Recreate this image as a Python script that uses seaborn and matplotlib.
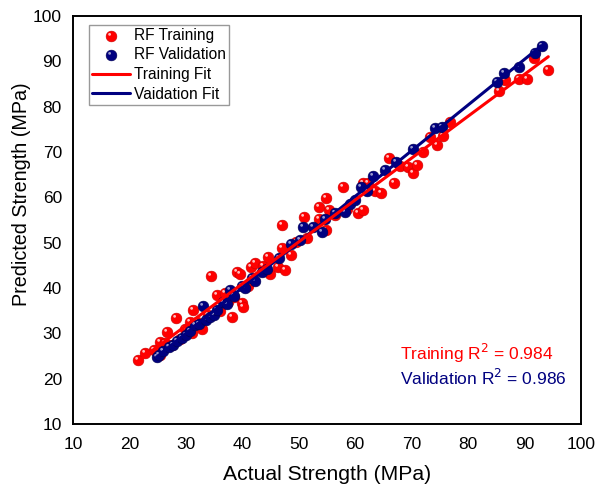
import numpy as np
import pandas as pd
import matplotlib
matplotlib.use("Agg")
import matplotlib.pyplot as plt
from matplotlib.path import Path
from matplotlib.legend_handler import HandlerTuple
import seaborn as sns

# data
train_actual = [21.6, 22.8, 24.4, 25.4, 25.5, 26.6, 26.3, 27.5, 28.2, 29.0,
                29.8, 30.7, 31.3, 31.0, 32.0, 32.8, 34.4, 34.0, 35.5, 36.0,
                36.9, 37.5, 38.1, 38.5, 39.0, 39.6, 39.9, 40.2, 41.5, 41.0,
                42.2, 43.7, 44.9, 44.6, 46.4, 47.6, 47.0, 48.7, 47.1, 49.5,
                50.9, 51.4, 53.6, 54.9, 53.5, 54.8, 55.4, 56.5, 57.9, 58.5,
                60.5, 61.4, 61.4, 62.3, 63.5, 64.5, 66.0, 66.8, 68.0, 69.4,
                70.3, 70.9, 72.0, 73.3, 74.4, 75.5, 76.8, 85.4, 86.5, 89.0,
                90.5, 91.7, 94.2]
train_pred = [24.1, 25.6, 26.3, 28.2, 25.3, 30.4, 27.8, 27.5, 33.3, 28.8,
              31.0, 32.6, 35.1, 30.0, 32.5, 30.9, 42.6, 34.0, 38.5, 35.0,
              38.8, 37.0, 33.5, 38.0, 43.6, 43.1, 36.6, 35.9, 44.7, 40.5,
              45.5, 44.9, 43.1, 46.8, 44.7, 44.0, 48.8, 47.3, 53.9, 50.2,
              55.7, 51.0, 55.2, 52.8, 57.8, 59.8, 57.2, 56.0, 62.2, 57.5,
              56.5, 57.3, 63.1, 63.1, 61.5, 61.0, 68.6, 63.1, 67.0, 66.6,
              65.3, 67.1, 70.0, 73.4, 71.5, 73.5, 76.7, 83.5, 85.8, 86.1,
              86.1, 90.7, 88.2]

val_actual = [24.8, 25.3, 26.0, 27.0, 27.8, 28.5, 29.3, 30.1, 30.8, 31.6,
              32.3, 33.1, 33.5, 34.2, 34.9, 35.5, 36.6, 37.2, 37.8, 38.5,
              39.9, 40.5, 41.7, 42.3, 43.5, 44.3, 46.5, 48.7, 50.2, 50.8,
              52.6, 54.1, 54.6, 56.4, 58.2, 59.0, 60.0, 61.1, 62.0, 63.2,
              65.3, 67.3, 70.3, 74.1, 75.3, 85.2, 86.4, 89.0, 91.9, 93.0]
val_pred = [24.8, 25.2, 26.0, 27.0, 27.4, 28.3, 29.0, 29.6, 30.5, 31.8,
            32.0, 36.1, 33.0, 33.5, 34.0, 35.2, 37.0, 36.5, 39.6, 38.2,
            40.4, 40.0, 42.1, 41.5, 43.5, 44.2, 46.6, 49.7, 50.6, 53.4,
            53.4, 52.4, 55.3, 56.6, 56.8, 58.5, 59.5, 62.2, 61.5, 64.6,
            66.0, 67.9, 70.6, 75.2, 75.6, 85.4, 87.4, 88.8, 91.8, 93.4]

ticks = [10, 20, 30, 40, 50, 60, 70, 80, 90, 100]

df_tr = pd.DataFrame({"actual": train_actual, "pred": train_pred})
df_va = pd.DataFrame({"actual": val_actual, "pred": val_pred})

RED = "#ff0000"
BLUE = "#000080"

sns.set_style("white")
plt.rcParams["font.family"] = ["Liberation Sans", "DejaVu Sans"]
plt.rcParams["text.color"] = "black"
plt.rcParams["axes.labelcolor"] = "black"

# small shiny spot so the markers look like little spheres
verts = [(1, 1), (-1, -1)]
codes = [Path.MOVETO, Path.MOVETO]
circ = Path.circle(center=(-0.35, 0.4), radius=0.26)
hl_marker = Path(verts + list(circ.vertices), codes + list(circ.codes))

fig = plt.figure(figsize=(5.95, 4.88), dpi=100)
ax = fig.add_axes([0.1227, 0.1311, 0.8538, 0.8361])

msize = 60
sns.scatterplot(data=df_tr, x="actual", y="pred", ax=ax, color=RED, s=msize,
                edgecolor="#c80000", linewidth=0.4, zorder=3)
sns.scatterplot(data=df_tr, x="actual", y="pred", ax=ax, color="white", s=msize,
                marker=hl_marker, linewidth=0, alpha=0.75, zorder=3)
sns.scatterplot(data=df_va, x="actual", y="pred", ax=ax, color=BLUE, s=msize,
                edgecolor="#000050", linewidth=0.4, zorder=4)
sns.scatterplot(data=df_va, x="actual", y="pred", ax=ax, color="white", s=msize,
                marker=hl_marker, linewidth=0, alpha=0.6, zorder=4)

sns.regplot(data=df_va, x="actual", y="pred", ax=ax, scatter=False, ci=None,
            truncate=True, line_kws={"color": BLUE, "lw": 2.2, "zorder": 5})
sns.regplot(data=df_tr, x="actual", y="pred", ax=ax, scatter=False, ci=None,
            truncate=True, line_kws={"color": RED, "lw": 2.2, "zorder": 5})

ax.set_xlim(10, 100)
ax.set_ylim(10, 100)
ax.set_xticks(ticks)
ax.set_yticks(ticks)
ax.tick_params(length=0, labelsize=12.5, colors="black")
ax.tick_params(axis="x", pad=9)
ax.tick_params(axis="y", pad=8)
for sp in ax.spines.values():
    sp.set_visible(True)
    sp.set_color("black")
    sp.set_linewidth(1.4)

ax.set_xlabel("Actual Strength (MPa)", fontsize=15.2, labelpad=10)
ax.set_ylabel("Predicted Strength (MPa)", fontsize=14.2)
ax.yaxis.set_label_coords(-0.082, 0.564)

cols = ax.collections
lines = ax.lines
handles = [(cols[0], cols[1]), (cols[2], cols[3]), lines[1], lines[0]]
labels = ["RF Training", "RF Validation", "Training Fit", "Vaidation Fit"]
leg = ax.legend(handles, labels, loc="upper left", bbox_to_anchor=(0.032, 0.979),
                fontsize=11.2, frameon=True, fancybox=False, borderpad=0.2,
                labelspacing=0.3, handlelength=2.4, handletextpad=0.25,
                borderaxespad=0, scatterpoints=1,
                handler_map={tuple: HandlerTuple(ndivide=1)})
leg.get_frame().set_edgecolor("#808080")
leg.get_frame().set_linewidth(1.0)

ax.text(0.644, 0.174, "Training R$^2$ = 0.984", transform=ax.transAxes,
        color=RED, fontsize=12.5, va="center")
ax.text(0.644, 0.113, "Validation R$^2$ = 0.986", transform=ax.transAxes,
        color=BLUE, fontsize=12.5, va="center")

fig.savefig("out.png", dpi=100)
